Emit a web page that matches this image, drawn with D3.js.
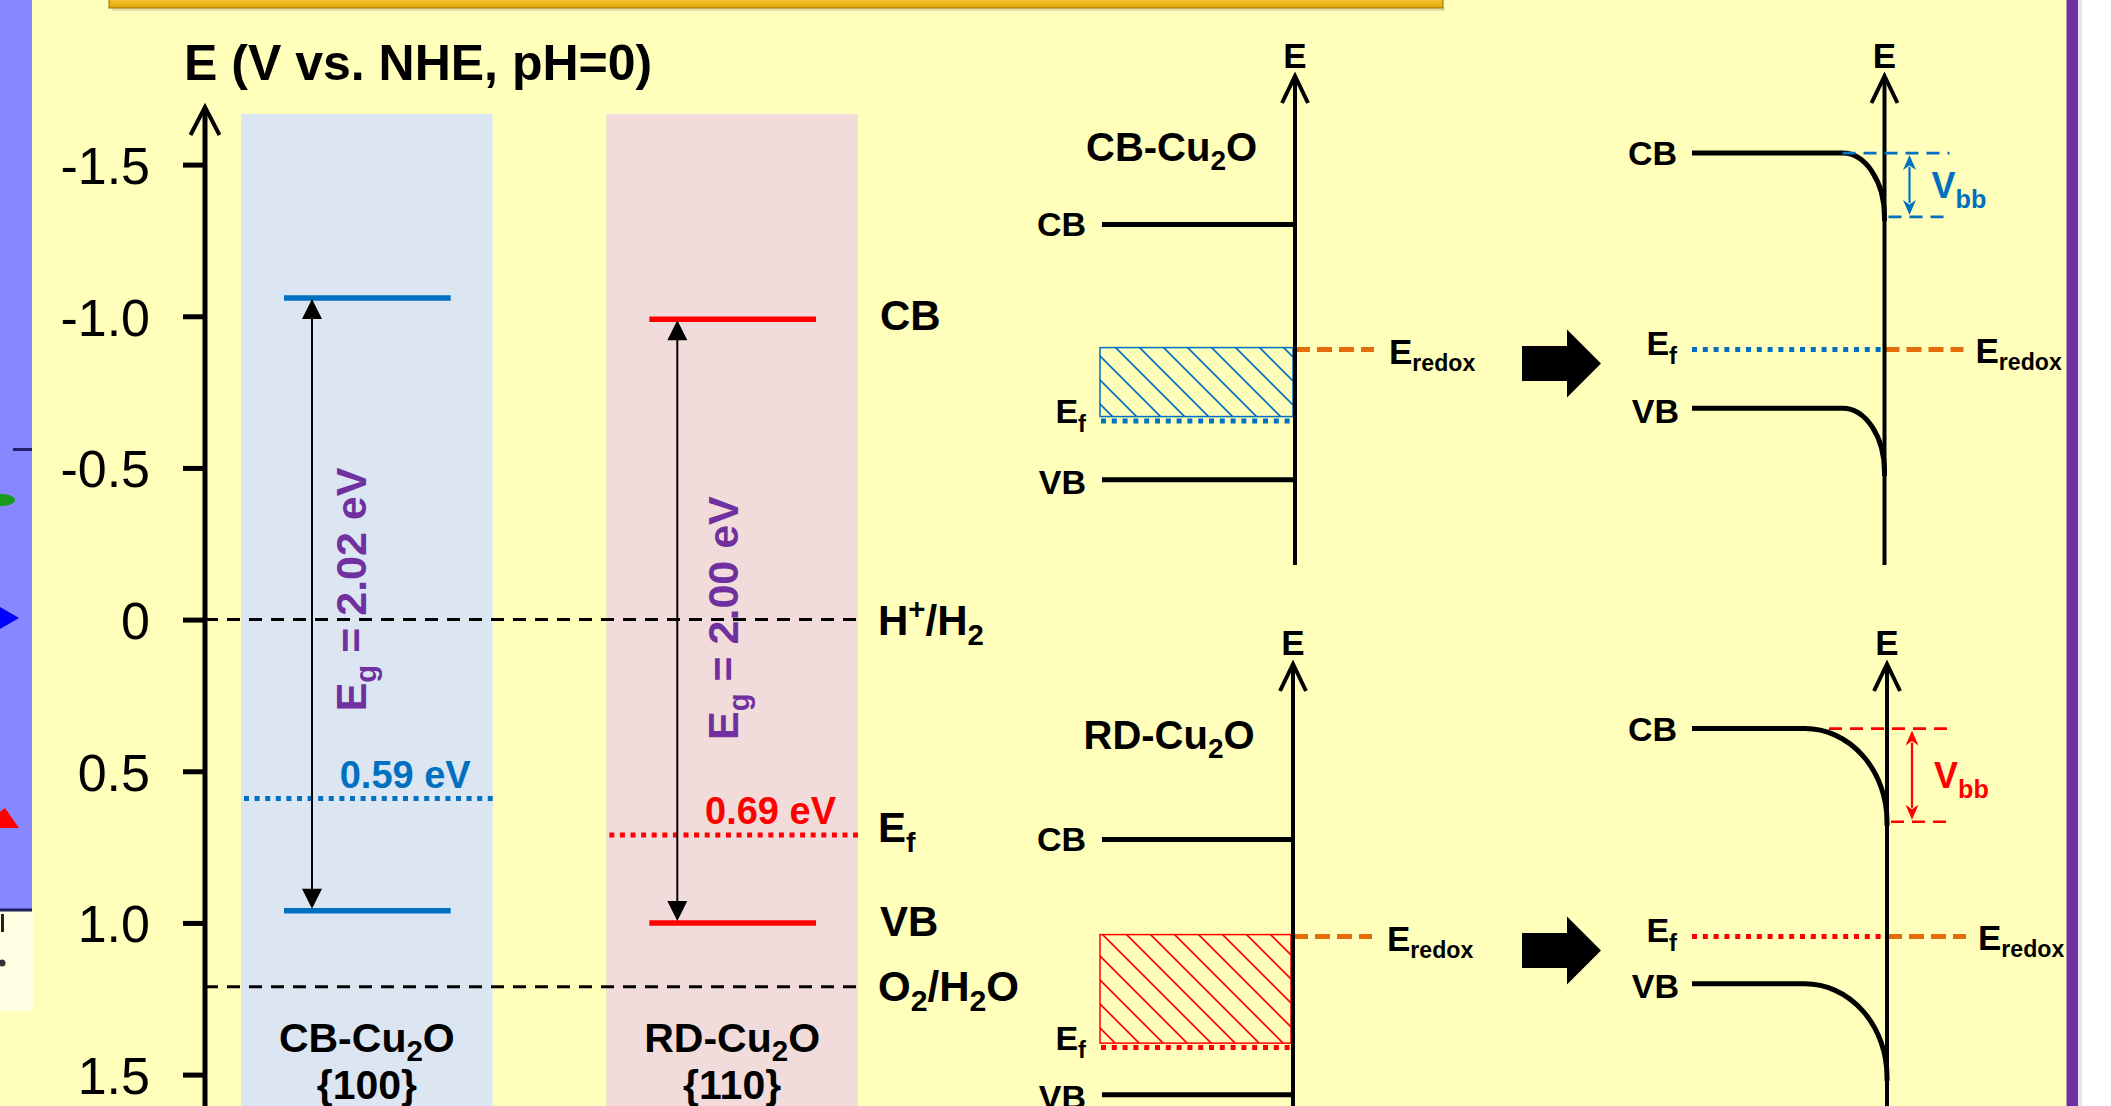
<!DOCTYPE html>
<html><head><meta charset="utf-8">
<script src="https://cdn.jsdelivr.net/npm/d3@7"></script>
<style>html,body{margin:0;padding:0;background:#fff;overflow:hidden}svg{display:block}</style>
</head><body><svg id="c" width="2111" height="1106"></svg>
<script>
// ---------------- data ----------------
const tickValues = [-1.5, -1.0, -0.5, 0, 0.5, 1.0, 1.5];
const tickLabels = ["-1.5", "-1.0", "-0.5", "0", "0.5", "1.0", "1.5"];
const samples = ["CB-Cu2O", "RD-Cu2O"];
const facets = ["{100}", "{110}"];
const cbLevels = [-1.06, -0.99];
const vbLevels = [0.96, 1.00];
const efLevels = [0.59, 0.71];
const efLabels = ["0.59 eV", "0.69 eV"];
const gapLabels = ["2.02 eV", "2.00 eV"];
const redoxCouples = ["H+/H2", "O2/H2O"];
const redoxLevels = [0, 1.21];
// schematic band diagrams (arbitrary energy units, E_redox = 0, positive = down)
const schemCB = [-0.98, -0.76];
const schemEf = [0.56, 0.87];
const schemVB = [1.02, 1.24];
const schemVbb = [0.50, 0.73];

// ---------------- styles / layout ----------------
const W = 2111, H = 1106;
const colors = ["#0070C0", "#FF0000"];
const bandFills = ["#DCE6F2", "#F2DCDB"];
const purple = "#7030A0", orange = "#E46C0A";
const FONT = "'Liberation Sans', Arial, sans-serif";

const svg = d3.select("#c").attr("font-family", FONT);
const defs = svg.append("defs");

function parseRich(s) {
  const out = []; const re = /(_|\^)\{([^}]*)\}|([^_^]+)/g; let m;
  while ((m = re.exec(s)) !== null) {
    if (m[3] !== undefined) out.push({t: m[3], k: "n"});
    else out.push({t: m[2], k: m[1] === "_" ? "sub" : "sup"});
  }
  return out;
}
function chem(s) { return s.replace(/([A-Za-z])\+/g, "$1^{+}").replace(/([A-Za-z])(\d)/g, "$1_{$2}"); }
function rich(textSel, str, size, subScale = 0.68, subOff = 0.24, supOff = 0.38) {
  let shift = 0;
  parseRich(str).forEach(p => {
    const ts = textSel.append("tspan").text(p.t);
    if (p.k === "sub") { ts.attr("font-size", size * subScale).attr("dy", size * subOff - shift); shift = size * subOff; }
    else if (p.k === "sup") { ts.attr("font-size", size * subScale).attr("dy", -size * supOff - shift); shift = -size * supOff; }
    else { if (shift !== 0) ts.attr("dy", -shift); shift = 0; }
  });
  return textSel;
}
function label(g, x, y, str, size, opts = {}) {
  const t = g.append("text").attr("x", x).attr("y", y).attr("font-size", size)
    .attr("font-weight", opts.weight || "bold").attr("fill", opts.fill || "#000")
    .attr("text-anchor", opts.anchor || "start");
  if (opts.transform) t.attr("transform", opts.transform).attr("x", 0).attr("y", 0);
  return rich(t, str, size, opts.subScale, opts.subOff);
}

// ---------------- background ----------------
svg.append("rect").attr("width", 2067).attr("height", H).attr("fill", "#FFFFBB");
svg.append("rect").attr("x", 2066.5).attr("width", 11.5).attr("height", H).attr("fill", purple);
svg.append("rect").attr("x", 2078).attr("width", 4).attr("height", H).attr("fill", "#E6E4EE");
svg.append("rect").attr("x", 2082).attr("width", 29).attr("height", H).attr("fill", "#FFFFFF");

// top gold bar
const gold = defs.append("linearGradient").attr("id", "gold").attr("x1", 0).attr("y1", 0).attr("x2", 0).attr("y2", 1);
gold.append("stop").attr("offset", 0).attr("stop-color", "#F6CC3A");
gold.append("stop").attr("offset", 1).attr("stop-color", "#DFA300");
svg.append("rect").attr("x", 112).attr("y", 7).attr("width", 1333).attr("height", 4).attr("fill", "#D8D0A0").attr("opacity", 0.7);
svg.append("rect").attr("x", 109).attr("y", -2).attr("width", 1334).attr("height", 10).attr("fill", "url(#gold)")
  .attr("stroke", "#A88010").attr("stroke-width", 1.2);

// left remnant strip of neighbouring figure
const rem = svg.append("g");
rem.append("rect").attr("x", 0).attr("y", 0).attr("width", 32).attr("height", 910).attr("fill", "#8787FF");
rem.append("rect").attr("x", 0).attr("y", 911).attr("width", 33).attr("height", 100).attr("fill", "#FFFFE4");
rem.append("line").attr("x1", 0).attr("x2", 32).attr("y1", 910).attr("y2", 910).attr("stroke", "#20205A").attr("stroke-width", 3);
rem.append("line").attr("x1", 13).attr("x2", 32).attr("y1", 449.5).attr("y2", 449.5).attr("stroke", "#20206A").attr("stroke-width", 3);
rem.append("ellipse").attr("cx", 2).attr("cy", 500).attr("rx", 13).attr("ry", 6).attr("fill", "#1A9A1A");
rem.append("polygon").attr("points", "0,607 19,618 0,629").attr("fill", "#0000FF");
rem.append("polygon").attr("points", "0,812 5,808 19,828 0,828").attr("fill", "#FF0000");
rem.append("rect").attr("x", 1).attr("y", 914).attr("width", 3).attr("height", 18).attr("fill", "#222");
rem.append("circle").attr("cx", 2).attr("cy", 963).attr("r", 3.5).attr("fill", "#333");

// ---------------- main energy diagram ----------------
const y = d3.scaleLinear().domain([-1.5, 1.5]).range([164.6, 1074.6]);
const xb = d3.scaleBand().domain(samples).range([241, 858]).paddingInner(0.311).paddingOuter(0);
const AX = 205;

const main = svg.append("g");
main.selectAll("rect.band").data(samples).join("rect").attr("class", "band")
  .attr("x", d => xb(d)).attr("y", 114).attr("width", xb.bandwidth()).attr("height", H - 114)
  .attr("fill", (d, i) => bandFills[i]);

main.selectAll("line.redox").data(redoxLevels).join("line").attr("class", "redox")
  .attr("x1", AX).attr("x2", xb(samples[1]) + xb.bandwidth())
  .attr("y1", d => y(d)).attr("y2", d => y(d))
  .attr("stroke", "#000").attr("stroke-width", 3).attr("stroke-dasharray", "13 9");

const axis = d3.axisLeft(y).tickValues(tickValues).tickFormat((d, i) => tickLabels[i])
  .tickSize(22).tickSizeOuter(0).tickPadding(33);
const ag = main.append("g").attr("transform", `translate(${AX},0)`).call(axis);
ag.select(".domain").remove();
ag.selectAll(".tick line").attr("stroke", "#000").attr("stroke-width", 5);
ag.selectAll(".tick text").attr("font-size", 52).attr("font-family", FONT).attr("fill", "#000").attr("dy", "0.36em");
main.append("line").attr("x1", AX).attr("x2", AX).attr("y1", 108).attr("y2", H).attr("stroke", "#000").attr("stroke-width", 5);
main.append("path").attr("d", `M${AX - 14.5},135 L${AX},107 L${AX + 14.5},135`)
  .attr("fill", "none").attr("stroke", "#000").attr("stroke-width", 4).attr("stroke-linejoin", "miter");

label(main, 184, 80, "E (V vs. NHE, pH=0)", 50);

const eqX = [125, 132], eqNudge = [-15, -3];
samples.forEach((s, i) => {
  const x0 = xb(s), bw = xb.bandwidth(), c = colors[i];
  [cbLevels[i], vbLevels[i]].forEach(v => {
    main.append("line").attr("x1", x0 + 43).attr("x2", x0 + bw - 42).attr("y1", y(v)).attr("y2", y(v))
      .attr("stroke", c).attr("stroke-width", 5.5);
  });
  main.append("line").attr("x1", x0 + 3).attr("x2", x0 + bw).attr("y1", y(efLevels[i])).attr("y2", y(efLevels[i]))
    .attr("stroke", c).attr("stroke-width", 5).attr("stroke-dasharray", "5 5.6");
  label(main, x0 + bw - 22, y(efLevels[i]) - 11, efLabels[i], 38, {fill: c, anchor: "end"});
  const ax = x0 + 71, yt = y(cbLevels[i]), yb = y(vbLevels[i]);
  main.append("line").attr("x1", ax).attr("x2", ax).attr("y1", yt + 18).attr("y2", yb - 18).attr("stroke", "#000").attr("stroke-width", 2);
  main.append("polygon").attr("points", `${ax},${yt + 1} ${ax - 10},${yt + 21} ${ax + 10},${yt + 21}`).attr("fill", "#000");
  main.append("polygon").attr("points", `${ax},${yb - 2} ${ax - 10},${yb - 22} ${ax + 10},${yb - 22}`).attr("fill", "#000");
  const cy = (yt + yb) / 2 + eqNudge[i];
  label(main, 0, 0, "E_{g} = " + gapLabels[i], 43, {fill: purple, anchor: "middle", transform: `translate(${x0 + eqX[i]},${cy}) rotate(-90)`});
  label(main, x0 + bw / 2, 1052, chem(s), 41, {anchor: "middle", subScale: 0.72, subOff: 0.22});
  label(main, x0 + bw / 2, 1099, facets[i], 41, {anchor: "middle"});
});

const LX = 880;
label(main, LX, y(cbLevels[1]) + 11, "CB", 42);
label(main, LX - 2, y(redoxLevels[0]) + 15, chem(redoxCouples[0]), 42, {subScale: 0.7});
label(main, LX - 2, y(efLevels[1]) + 7, "E_{f}", 42);
label(main, LX, y(vbLevels[1]) + 13, "VB", 42);
label(main, LX - 2, y(redoxLevels[1]) + 14, chem(redoxCouples[1]), 42, {subScale: 0.72});

// ---------------- schematic band diagrams ----------------
const k = 127.6;
const ey = [349.6, 936.6];
const axL = [1295, 1293], axR = [1884.5, 1887];
const tipY = [76, 664], axBottom = [565, H];
const eLabelY = [67.7, 654.5], titleY = [161, 749.4], titleX = [1086, 1083.5];
const bendRx = [42, 82];

const hp = (id, c) => {
  const p = defs.append("pattern").attr("id", id).attr("patternUnits", "userSpaceOnUse").attr("width", 24).attr("height", 24);
  p.append("path").attr("d", "M-3,-3 L27,27 M-3,21 L3,27 M21,-3 L27,3").attr("stroke", c).attr("stroke-width", 1.6).attr("fill", "none");
};
hp("hatch0", colors[0]); hp("hatch1", colors[1]);

const sg = svg.append("g");
function vAxis(x, yt, yb) {
  sg.append("line").attr("x1", x).attr("x2", x).attr("y1", yt + 1).attr("y2", yb).attr("stroke", "#000").attr("stroke-width", 4);
  sg.append("path").attr("d", `M${x - 13},${yt + 27} L${x},${yt} L${x + 13},${yt + 27}`)
    .attr("fill", "none").attr("stroke", "#000").attr("stroke-width", 4);
}
function dblArrow(x, y1, y2, c, hl, hw) {
  sg.append("line").attr("x1", x).attr("x2", x).attr("y1", y1 + hl - 3).attr("y2", y2 - hl + 3).attr("stroke", c).attr("stroke-width", 2.2);
  sg.append("path").attr("d", `M${x},${y1} L${x + hw / 2},${y1 + hl} L${x},${y1 + hl * 0.7} L${x - hw / 2},${y1 + hl} Z`).attr("fill", c);
  sg.append("path").attr("d", `M${x},${y2} L${x + hw / 2},${y2 - hl} L${x},${y2 - hl * 0.7} L${x - hw / 2},${y2 - hl} Z`).attr("fill", c);
}

samples.forEach((s, i) => {
  const c = colors[i], e0 = ey[i];
  const xa = axL[i];
  const cbY = e0 + schemCB[i] * k, efY = e0 + schemEf[i] * k, vbY = e0 + schemVB[i] * k;
  sg.append("rect").attr("x", 1100).attr("y", e0 - 2).attr("width", xa - 2 - 1100).attr("height", efY - 4.5 - (e0 - 2))
    .attr("fill", `url(#hatch${i})`).attr("stroke", c).attr("stroke-width", 1.5);
  sg.append("line").attr("x1", 1101).attr("x2", xa - 2).attr("y1", efY).attr("y2", efY)
    .attr("stroke", c).attr("stroke-width", 5).attr("stroke-dasharray", "5 5.8");
  [cbY, vbY].forEach(v => sg.append("line").attr("x1", 1102).attr("x2", xa).attr("y1", v).attr("y2", v).attr("stroke", "#000").attr("stroke-width", 5));
  sg.append("line").attr("x1", xa).attr("x2", xa + 79).attr("y1", e0).attr("y2", e0)
    .attr("stroke", orange).attr("stroke-width", 5).attr("stroke-dasharray", "15 7");
  vAxis(xa, tipY[i], axBottom[i]);
  label(sg, xa, eLabelY[i], "E", 35, {anchor: "middle"});
  label(sg, titleX[i], titleY[i], chem(s), 40, {subScale: 0.7, subOff: 0.22});
  label(sg, 1086, cbY + 11.5, "CB", 34, {anchor: "end"});
  label(sg, 1086, vbY + 14, "VB", 34, {anchor: "end"});
  label(sg, 1086, efY + 2, "E_{f}", 34, {anchor: "end", subScale: 0.7, subOff: 0.26});
  label(sg, xa + 94, e0 + 14.5, "E_{redox}", 35, {subScale: 0.66, subOff: 0.2});

  const ay = e0 + 14;
  sg.append("path").attr("d", `M1522,${ay - 17.5} H1567 V${ay - 34} L1601,${ay} L1567,${ay + 34} V${ay + 17.5} H1522 Z`).attr("fill", "#000");

  const xr = axR[i];
  const cbR = e0 + (schemCB[i] - schemEf[i]) * k, vbR = e0 + (schemVB[i] - schemEf[i]) * k, vb = schemVbb[i] * k;
  const rx = bendRx[i];
  [cbR, vbR].forEach(v => {
    sg.append("path").attr("d", `M1692,${v} H${xr - rx} A${rx},${vb} 0 0 1 ${xr},${v + vb} V${Math.min(v + vb + 4, axBottom[i])}`)
      .attr("fill", "none").attr("stroke", "#000").attr("stroke-width", 5);
  });
  sg.append("line").attr("x1", 1692).attr("x2", xr).attr("y1", e0).attr("y2", e0)
    .attr("stroke", c).attr("stroke-width", 5).attr("stroke-dasharray", "5 5.8");
  sg.append("line").attr("x1", xr).attr("x2", xr + 79).attr("y1", e0).attr("y2", e0)
    .attr("stroke", orange).attr("stroke-width", 5).attr("stroke-dasharray", "15 7");
  vAxis(xr, tipY[i], axBottom[i]);
  label(sg, xr, eLabelY[i], "E", 35, {anchor: "middle"});
  sg.append("line").attr("x1", xr - Math.min(rx, 58)).attr("x2", xr + 65).attr("y1", cbR).attr("y2", cbR)
    .attr("stroke", c).attr("stroke-width", 2.6).attr("stroke-dasharray", "13 8");
  sg.append("line").attr("x1", xr + 4).attr("x2", xr + 65).attr("y1", cbR + vb).attr("y2", cbR + vb)
    .attr("stroke", c).attr("stroke-width", 2.6).attr("stroke-dasharray", "13 8");
  dblArrow(xr + 25, cbR + 2, cbR + vb - 2, c, 15, 13);
  label(sg, xr + 47, cbR + vb / 2 + 13, "V_{bb}", 36, {fill: c, subScale: 0.7, subOff: 0.28});
  label(sg, 1677, cbR + 12, "CB", 34, {anchor: "end"});
  label(sg, 1679, vbR + 14.5, "VB", 34, {anchor: "end"});
  label(sg, 1677, e0 + 5.5, "E_{f}", 34, {anchor: "end", subScale: 0.7, subOff: 0.26});
  label(sg, xr + 91, e0 + 13, "E_{redox}", 35, {subScale: 0.66, subOff: 0.2});
});
</script>
</body></html>
